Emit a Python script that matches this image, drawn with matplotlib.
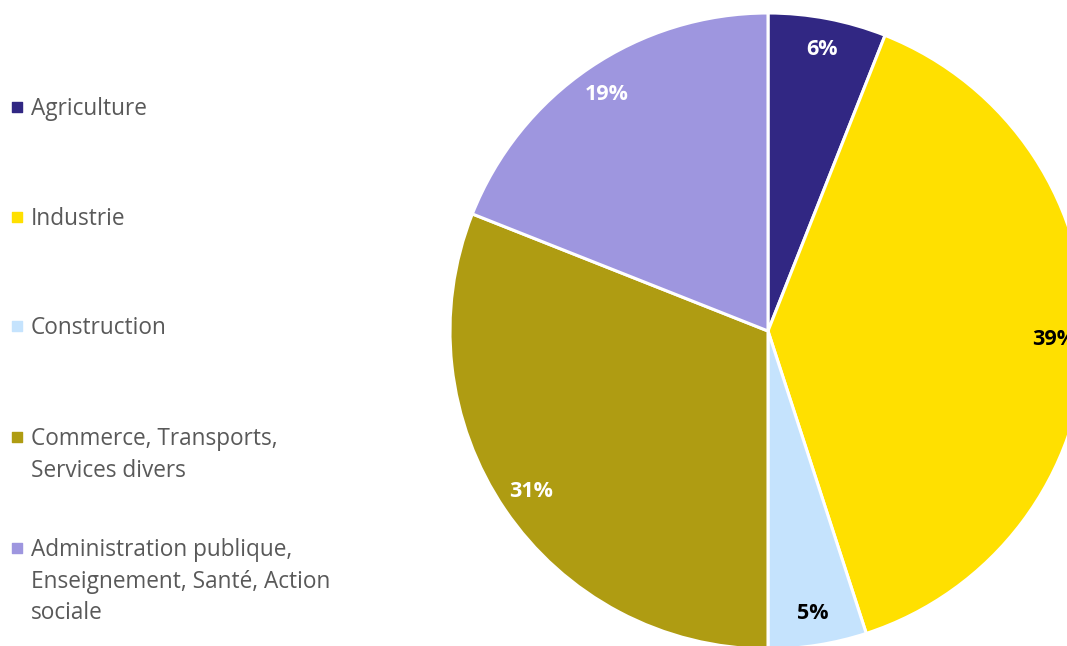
import matplotlib
matplotlib.use("Agg")
import matplotlib.pyplot as plt

categories = ["Agriculture", "Industrie", "Construction",
              "Commerce, Transports,\nServices divers",
              "Administration publique,\nEnseignement, Santé, Action\nsociale"]
values = [6, 39, 5, 31, 19]
colors = ["#312783", "#FFE000", "#C5E3FD", "#AF9C12", "#9E96DF"]
label_colors = ["white", "black", "black", "white", "white"]

W, H = 1067, 646
fig = plt.figure(figsize=(W / 100, H / 100), dpi=100)
ax = fig.add_axes([0, 0, 1, 1])
ax.set_xlim(0, W)
ax.set_ylim(0, H)
ax.set_aspect("equal")
ax.axis("off")

cx, cy, r = 768, H - 331, 318
wedges, texts, autotexts = ax.pie(
    values, colors=colors, startangle=90, counterclock=False,
    center=(cx, cy), radius=r, autopct="%1.0f%%", pctdistance=0.9,
    wedgeprops=dict(edgecolor="white", linewidth=2.2),
    textprops=dict(fontsize=15.5, fontweight="bold", family="Open Sans"))
for t, c in zip(autotexts, label_colors):
    t.set_color(c)
ax.set_xlim(0, W)
ax.set_ylim(0, H)

# legend
legend_y = [107, 217, 326, 437, 548]
for lab, col, y in zip(categories, colors, legend_y):
    ax.scatter([17], [H - y], marker="s", s=55, color=col, clip_on=False)
    ax.text(31, H - y + 10, lab, ha="left", va="top", fontsize=16.3,
            family="Open Sans", color="#595959", linespacing=1.42)

fig.savefig("out.png", dpi=100)
